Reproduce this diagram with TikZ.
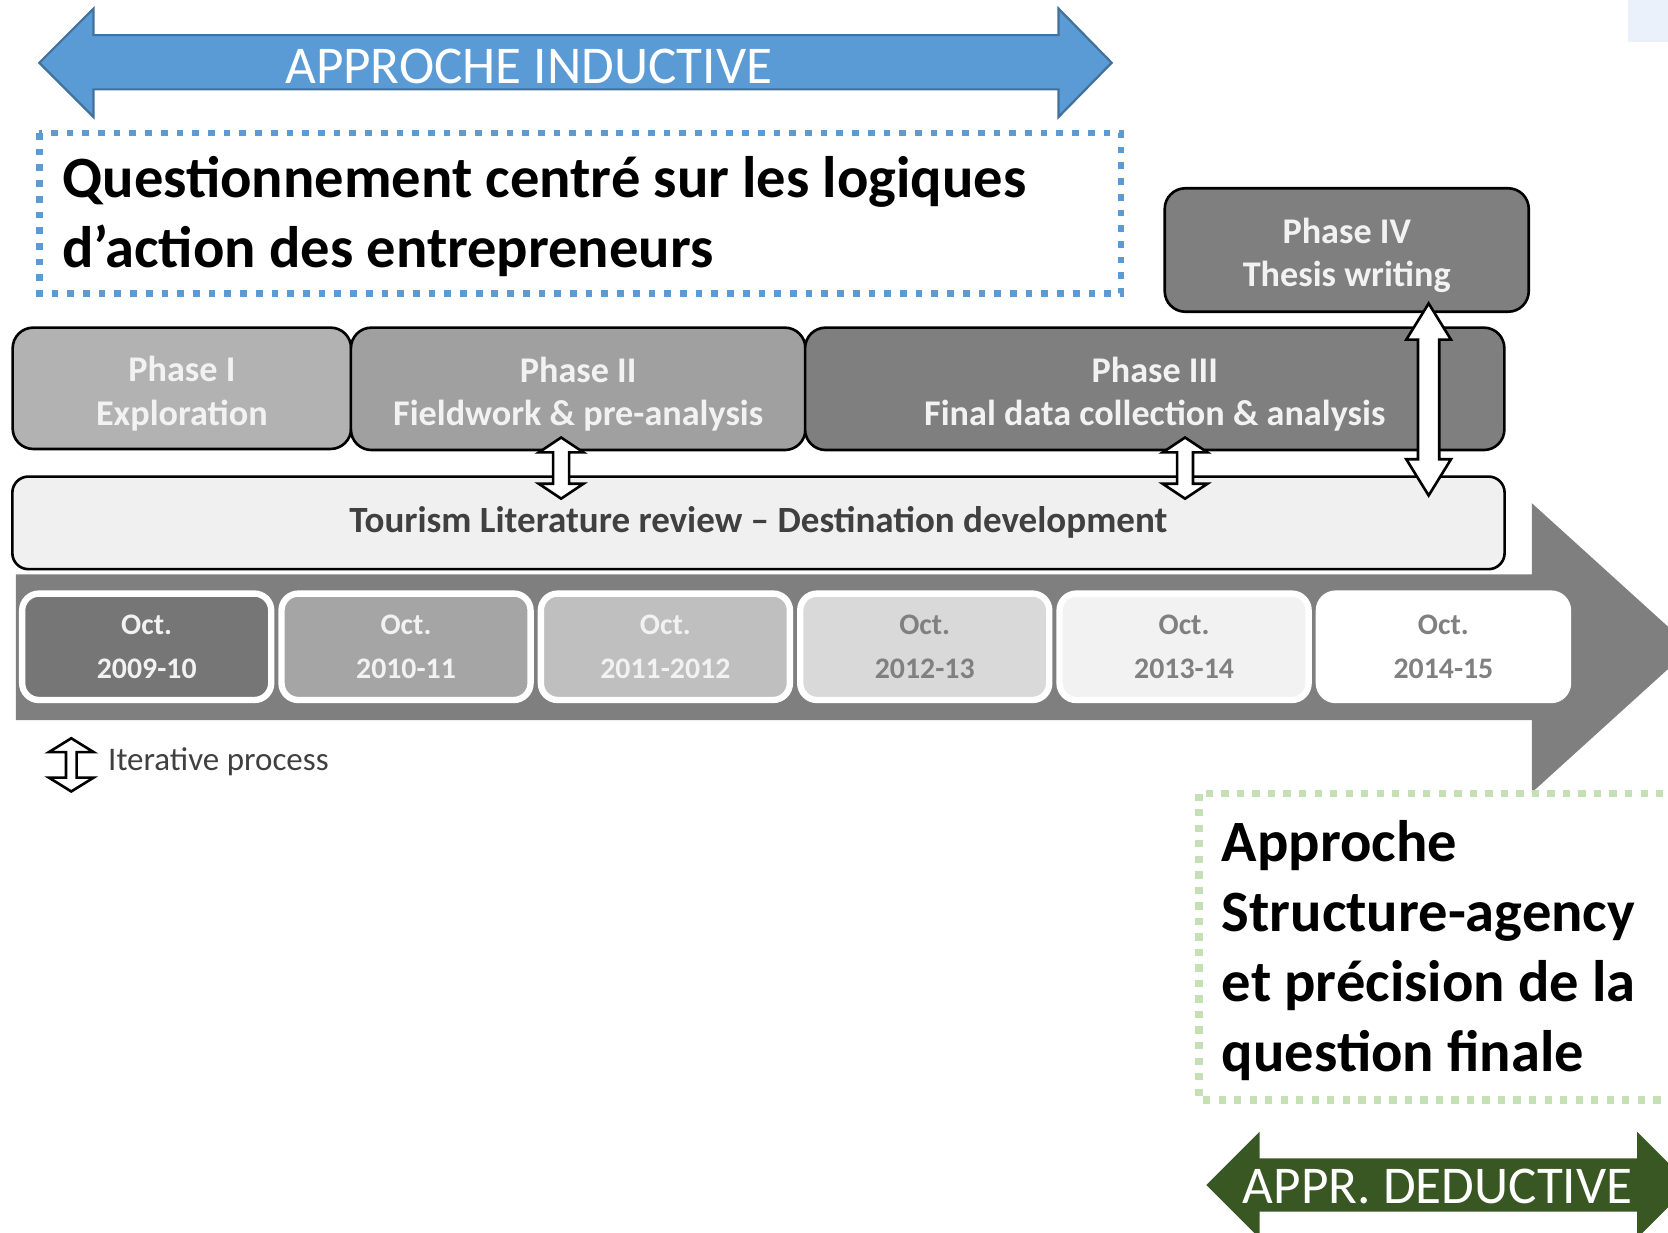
\documentclass[tikz,border=0pt]{standalone}
\usepackage{fontspec}
\setmainfont{Carlito}
\usetikzlibrary{calc}
\definecolor{indblue}{RGB}{91,155,213}
\definecolor{indedge}{RGB}{65,113,156}
\definecolor{dedgreen}{RGB}{56,87,35}
\definecolor{dotgreen}{RGB}{197,224,180}
\definecolor{cornerblue}{RGB}{234,241,251}
\definecolor{bandgray}{RGB}{127,127,127}
\definecolor{txtgray}{RGB}{64,64,64}
\definecolor{phasetext}{RGB}{242,242,242}
\definecolor{phaseone}{RGB}{178,178,178}
\definecolor{phasetwo}{RGB}{160,160,160}
\definecolor{phasethree}{RGB}{127,127,127}
\definecolor{litfill}{RGB}{240,240,240}
\definecolor{yrone}{RGB}{118,118,118}
\definecolor{yrtwo}{RGB}{165,165,165}
\definecolor{yrthree}{RGB}{191,191,191}
\definecolor{yrfour}{RGB}{217,217,217}
\definecolor{yrfive}{RGB}{242,242,242}
\definecolor{yrdark}{RGB}{128,128,128}
% white double arrow: top tip, bottom tip, shaft half width, head half width, head length
\newcommand{\fatarrow}[5]{%
  \draw[itline] (#1) -- ($(#1)+(#4,#5)$) -- ($(#1)+(#3,#5)$)
    -- ($(#2)+(#3,-#5)$) -- ($(#2)+(#4,-#5)$) -- (#2)
    -- ($(#2)+(-#4,-#5)$) -- ($(#2)+(-#3,-#5)$)
    -- ($(#1)+(-#3,#5)$) -- ($(#1)+(-#4,#5)$) -- cycle;}
\begin{document}
\begin{tikzpicture}[x=0.01cm, y=-0.01cm,
  phasebox/.style={draw=black, line width=0.7pt, rounded corners=5.5pt, inner sep=0pt},
  phasetxt/.style={text=phasetext, align=center, inner sep=0pt, yshift=-1.4pt,
    font=\bfseries\fontsize{9.67}{11.67}\selectfont},
  yearbox/.style={draw=white, line width=1.7pt, rounded corners=4.5pt, minimum width=2.34cm,
    minimum height=1cm, align=center, inner sep=0pt, font=\bfseries\fontsize{7.97}{11.67}\selectfont},
  itline/.style={draw=black, fill=white, line width=0.7pt},
  bigtxt/.style={align=left, inner sep=0pt, font=\bfseries\fontsize{15.65}{18.7}\selectfont},
  apprtxt/.style={text=white, inner sep=0pt, font=\fontsize{14.2}{17}\selectfont}]
\path[use as bounding box] (0,0) rectangle (1568,1159);
\clip (0,0) rectangle (1568,1159);

\fill[cornerblue] (1530,0) rectangle (1570,39);

% inductive arrow
\draw[fill=indblue, draw=indedge, line width=0.6pt] (37,59) -- (88,8) -- (88,33) -- (995,33)
  -- (995,8) -- (1045,59) -- (995,110) -- (995,84) -- (88,84) -- (88,110) -- cycle;
\node[apprtxt] (induct) at (497,62) {APPROCHE INDUCTIVE};

% question box
\draw[indblue, line width=1.7pt, dash pattern=on 1.8pt off 2.4pt] (37,125) rectangle (1054,276);
\node[bigtxt, anchor=base west] (quest) at (58,251)
  {Questionnement centré sur les logiques\\d’action des entrepreneurs};

% timeline
\fill[bandgray] (15,540) -- (1440,540) -- (1440,473) -- (1590,609) -- (1440,745)
  -- (1440,677) -- (15,677) -- cycle;
\foreach \yr/\fc/\tc [count=\i] in {2009-10/yrone/phasetext, 2010-11/yrtwo/phasetext,
    2011-2012/yrthree/phasetext, 2012-13/yrfour/yrdark, 2013-14/yrfive/yrdark, 2014-15/white/yrdark}
  \node[yearbox, fill=\fc, text=\tc] (y\i) at (16+243.8*\i-121.9,608) {Oct.\\\yr};

% phases
\node[phasebox, fill=phaseone, minimum width=3.18cm, minimum height=1.14cm] (ph1) at (171,365) {};
\node[phasetxt] (ph1txt) at (ph1) {Phase I\\Exploration};
\node[phasebox, fill=phasetwo, minimum width=4.27cm, minimum height=1.15cm] (ph2) at (543.5,365.5) {};
\node[phasetxt] (ph2txt) at (ph2) {Phase II\\Fieldwork \& pre-analysis};
\node[phasebox, fill=phasethree, minimum width=6.57cm, minimum height=1.15cm] (ph3) at (1085.5,365.5) {};
\node[phasetxt] (ph3txt) at (ph3) {Phase III\\Final data collection \& analysis};
\node[phasebox, fill=phasethree, minimum width=3.42cm, minimum height=1.16cm] (ph4) at (1266,235) {};
\node[phasetxt] (ph4txt) at (ph4) {Phase IV\\Thesis writing};
\node[draw=black, line width=0.7pt, rounded corners=4.3pt, fill=litfill, text=txtgray,
  minimum width=14.02cm, minimum height=0.87cm, inner sep=0pt,
  font=\bfseries\fontsize{9.9}{11.67}\selectfont] (lit) at (713,491.5)
  {Tourism Literature review – Destination development};

% iterations
\coordinate (itA) at ($(ph2.south)+(-16,-13)$);
\coordinate (litA) at ($(ph2.south |- lit.north)+(-16,22)$);
\coordinate (itB) at ($(ph3.south)+(28.5,-13)$);
\coordinate (litB) at ($(ph3.south |- lit.north)+(28.5,22)$);
\coordinate (itC) at ($(ph4.south)+(77,-9)$);
\coordinate (litC) at ($(ph4.south |- lit.north)+(77,19)$);
\fatarrow{itA}{litA}{7.5}{21}{14}
\fatarrow{itB}{litB}{7.5}{21}{14}
\fatarrow{itC}{litC}{10}{21}{34}

% legend
\coordinate (legtop) at (67,694);
\coordinate (legbot) at (67,744);
\fatarrow{legtop}{legbot}{5}{21}{13}
\node[anchor=west, inner sep=0pt, text=txtgray, font=\fontsize{8.82}{10}\selectfont] (legend)
  at (101,716) {Iterative process};

% structure-agency box
\draw[dotgreen, line width=1.95pt, dash pattern=on 1.95pt off 2.2pt] (1127,746) rectangle (1590,1034);
\node[bigtxt, anchor=base west] (struct) at (1148,1007)
  {Approche\\Structure-agency\\et précision de la\\question finale};

% deductive arrow
\fill[dedgreen] (1134,1114) -- (1184,1064) -- (1184,1089) -- (1539,1089) -- (1539,1064)
  -- (1589,1114) -- (1539,1164) -- (1539,1139) -- (1184,1139) -- (1184,1164) -- cycle;
\node[apprtxt] (deduct) at (1351.5,1115) {APPR. DEDUCTIVE};
\end{tikzpicture}
\end{document}
